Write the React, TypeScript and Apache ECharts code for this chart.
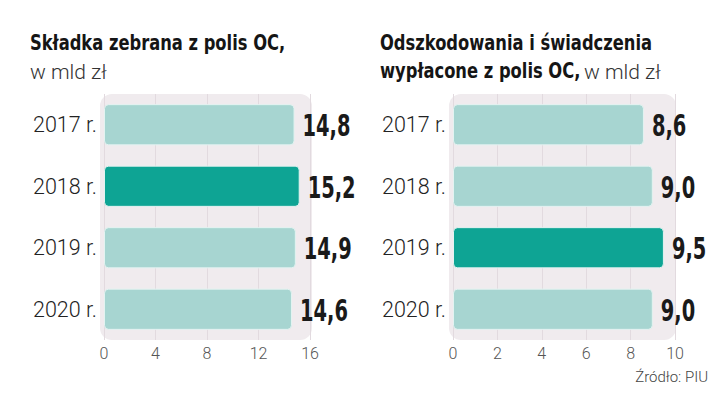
import React, { useEffect, useRef } from "react";
import * as echarts from "echarts";

const years = ["2017 r.", "2018 r.", "2019 r.", "2020 r."];
const premiums = [14.8, 15.2, 14.9, 14.6];
const claims = [8.6, 9.0, 9.5, 9.0];
const premiumHighlight = "2018 r.";
const claimsHighlight = "2019 r.";
const leftTicks = { min: 0, max: 16, interval: 4 };
const rightTicks = { min: 0, max: 10, interval: 2 };

const LIGHT = "#a7d5d1";
const DARK = "#0ea494";
const PANEL = "#f0ebee";
const BOLD_FONT = "'DejaVu Sans Condensed', 'DejaVu Sans', sans-serif";
const LIGHT_FONT = "Roboto, 'Noto Sans', sans-serif";

const fmt = (v: number) => v.toFixed(1).replace(".", ",");

export default function App() {
  const ref = useRef<HTMLDivElement>(null);
  useEffect(() => {
    if (!ref.current) return;
    const chart = echarts.init(ref.current, undefined, { renderer: "svg" });
    const gTop = 94;
    const gH = 246;
    const grids = [
      { left: 104, top: gTop, width: 206, height: gH },
      { left: 453, top: gTop, width: 222, height: gH },
    ];
    const mkData = (vals: number[], hl: string) =>
      vals.map((v, i) => ({
        value: v,
        itemStyle: { color: years[i] === hl ? DARK : LIGHT },
      }));
    const xAxisCommon = {
      type: "value" as const,
      axisLine: { show: false },
      axisTick: { show: false },
      splitLine: { show: true, lineStyle: { color: "#e2dadf", width: 1 } },
      axisLabel: {
        color: "#555",
        fontFamily: LIGHT_FONT,
        fontWeight: 300 as any,
        fontSize: 16,
        margin: 5,
      },
    };
    const yAxisCommon = {
      type: "category" as const,
      data: years,
      inverse: true,
      axisLine: { show: false },
      axisTick: { show: false },
      axisLabel: {
        color: "#222",
        fontFamily: LIGHT_FONT,
        fontWeight: 300 as any,
        fontSize: 21.5,
        margin: 7,
      },
    };
    const barCommon = {
      type: "bar" as const,
      barWidth: "67%",
      itemStyle: { borderRadius: 4, borderColor: "#e3f3f1", borderWidth: 1 },
    };
    const labelSeries = (vals: number[], idx: number) => ({
      type: "custom" as const,
      xAxisIndex: idx,
      yAxisIndex: idx,
      encode: { x: 0, y: 1 },
      data: vals.map((v, i) => [v, i]),
      renderItem: (_params: any, api: any) => {
        const v = api.value(0);
        const pt = api.coord([v, api.value(1)]);
        return {
          type: "text",
          x: pt[0] + 8,
          y: pt[1] + 1,
          scaleX: 0.72,
          style: {
            text: fmt(v),
            font: `bold 30px ${BOLD_FONT}`,
            fill: "#1a1a1a",
            align: "left",
            verticalAlign: "middle",
          },
        };
      },
    });
    chart.setOption({
      animation: false,
      backgroundColor: "#ffffff",
      grid: grids,
      xAxis: [
        { ...xAxisCommon, gridIndex: 0, ...leftTicks },
        { ...xAxisCommon, gridIndex: 1, ...rightTicks },
      ],
      yAxis: [
        { ...yAxisCommon, gridIndex: 0 },
        { ...yAxisCommon, gridIndex: 1 },
      ],
      series: [
        { ...barCommon, xAxisIndex: 0, yAxisIndex: 0, data: mkData(premiums, premiumHighlight) },
        { ...barCommon, xAxisIndex: 1, yAxisIndex: 1, data: mkData(claims, claimsHighlight) },
        labelSeries(premiums, 0),
        labelSeries(claims, 1),
      ],
      graphic: [
        {
          type: "rect",
          z: -10,
          silent: true,
          shape: { x: 100, y: gTop, width: 212, height: gH, r: 12 },
          style: { fill: PANEL },
        },
        {
          type: "rect",
          z: -10,
          silent: true,
          shape: { x: 449, y: gTop, width: 227, height: gH, r: 12 },
          style: { fill: PANEL },
        },
        {
          type: "text",
          x: 30,
          y: 31,
          scaleX: 0.825,
          style: {
            text: "Składka zebrana z polis OC,",
            font: `bold 22px ${BOLD_FONT}`,
            fill: "#151515",
          },
        },
        {
          type: "text",
          left: 30,
          top: 61,
          style: {
            text: "w mld zł",
            font: `300 21px ${LIGHT_FONT}`,
            fill: "#333",
          },
        },
        {
          type: "text",
          x: 380,
          y: 31,
          scaleX: 0.825,
          style: {
            text: "Odszkodowania i świadczenia",
            font: `bold 22px ${BOLD_FONT}`,
            fill: "#151515",
          },
        },
        {
          type: "text",
          x: 380,
          y: 59,
          scaleX: 0.825,
          style: {
            text: "wypłacone z polis OC,",
            font: `bold 22px ${BOLD_FONT}`,
            fill: "#151515",
          },
        },
        {
          type: "text",
          x: 584,
          y: 61,
          style: {
            text: "w mld zł",
            font: `300 21px ${LIGHT_FONT}`,
            fill: "#333",
          },
        },
        {
          type: "text",
          right: 12,
          top: 369,
          style: {
            text: "Źródło: PIU",
            font: `300 15px ${LIGHT_FONT}`,
            fill: "#444",
          },
        },
      ],
    });
    return () => chart.dispose();
  }, []);
  return (
    <div
      ref={ref}
      style={{ position: "fixed", left: 0, top: 0, width: 720, height: 399 }}
    />
  );
}
